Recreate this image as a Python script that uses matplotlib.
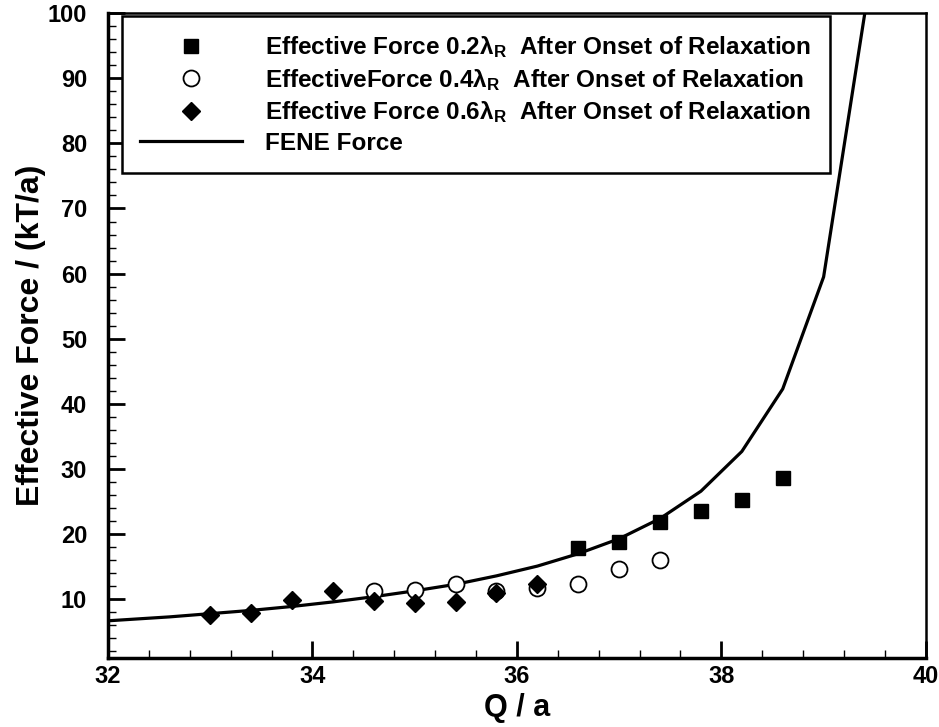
import matplotlib
matplotlib.use('Agg')
import matplotlib.pyplot as plt
from matplotlib.ticker import MultipleLocator

plt.rcParams['font.family'] = ['Liberation Sans', 'DejaVu Sans']
plt.rcParams['font.weight'] = 'bold'
plt.rcParams['mathtext.fontset'] = 'custom'
plt.rcParams['mathtext.rm'] = 'Liberation Sans:bold'
plt.rcParams['mathtext.it'] = 'Liberation Sans:bold'
plt.rcParams['mathtext.bf'] = 'Liberation Sans:bold'

# effective force, 0.2 lambda_R after onset of relaxation
q_02 = [36.6, 37.0, 37.4, 37.8, 38.2, 38.6]
f_02 = [17.9, 18.8, 21.9, 23.6, 25.2, 28.7]

# effective force, 0.4 lambda_R
q_04 = [34.6, 35.0, 35.4, 35.8, 36.2, 36.6, 37.0, 37.4]
f_04 = [11.2, 11.5, 12.4, 11.2, 11.8, 12.4, 14.6, 16.1]

# effective force, 0.6 lambda_R
q_06 = [33.0, 33.4, 33.8, 34.2, 34.6, 35.0, 35.4, 35.8, 36.2]
f_06 = [7.6, 7.9, 9.9, 11.2, 9.8, 9.5, 9.6, 11.0, 12.3]

# FENE spring force
q_fene = [31.8, 32.2, 32.6, 33.0, 33.4, 33.8, 34.2, 34.6, 35.0, 35.4,
          35.8, 36.2, 36.6, 37.0, 37.4, 37.8, 38.2, 38.6, 39.0, 39.4]
f_fene = [6.5, 6.9, 7.3, 7.8, 8.3, 8.9, 9.6, 10.4, 11.3, 12.3,
          13.6, 15.1, 17.0, 19.3, 22.4, 26.6, 32.7, 42.3, 59.5, 99.7]

fig = plt.figure(figsize=(9.39, 7.27), dpi=100)
ax = fig.add_axes([0.115, 0.095, 0.871, 0.887])

ax.plot(q_02, f_02, linestyle='none', marker='s', markersize=9.5,
        color='black', label=r'Effective Force 0.2λ$_{\mathrm{R}}$  After Onset of Relaxation')
ax.plot(q_04, f_04, linestyle='none', marker='o', markersize=11.5,
        markerfacecolor='white', markeredgecolor='black', markeredgewidth=1.3,
        label=r'EffectiveForce 0.4λ$_{\mathrm{R}}$  After Onset of Relaxation')
ax.plot(q_06, f_06, linestyle='none', marker='D', markersize=9,
        color='black', label=r'Effective Force 0.6λ$_{\mathrm{R}}$  After Onset of Relaxation')
ax.plot(q_fene, f_fene, color='black', linewidth=2.3, label='FENE Force', zorder=1)

ax.set_xlim(32, 40)
ax.set_ylim(1, 100)
ax.xaxis.set_major_locator(MultipleLocator(2))
ax.xaxis.set_minor_locator(MultipleLocator(0.4))
ax.yaxis.set_major_locator(MultipleLocator(10))
ax.yaxis.set_minor_locator(MultipleLocator(2))
ax.tick_params(which='both', direction='in', top=False, right=False)
ax.tick_params(which='major', length=12, width=2)
ax.tick_params(which='minor', length=6, width=1)
ax.tick_params(axis='x', labelsize=17, pad=5)
ax.tick_params(axis='y', labelsize=17, pad=15)
for lab in ax.get_xticklabels() + ax.get_yticklabels():
    lab.set_fontweight('bold')

for side in ['left', 'bottom']:
    ax.spines[side].set_linewidth(2.5)
for side in ['right', 'top']:
    ax.spines[side].set_linewidth(1.8)

ax.set_xlabel('Q / a', fontsize=22, fontweight='bold', labelpad=4)
ax.set_ylabel('Effective Force / (kT/a)', fontsize=23, fontweight='bold', labelpad=1)

leg = ax.legend(loc='upper left', bbox_to_anchor=(0.017, 0.995), fontsize=17.5,
                frameon=True, fancybox=False, edgecolor='black', framealpha=1,
                handlelength=4.2, handletextpad=0.95, borderpad=0.75,
                labelspacing=0.27, borderaxespad=0, numpoints=1)
leg.get_frame().set_linewidth(1.8)
for t in leg.get_texts():
    t.set_fontweight('bold')

fig.savefig('out.png', dpi=100)
